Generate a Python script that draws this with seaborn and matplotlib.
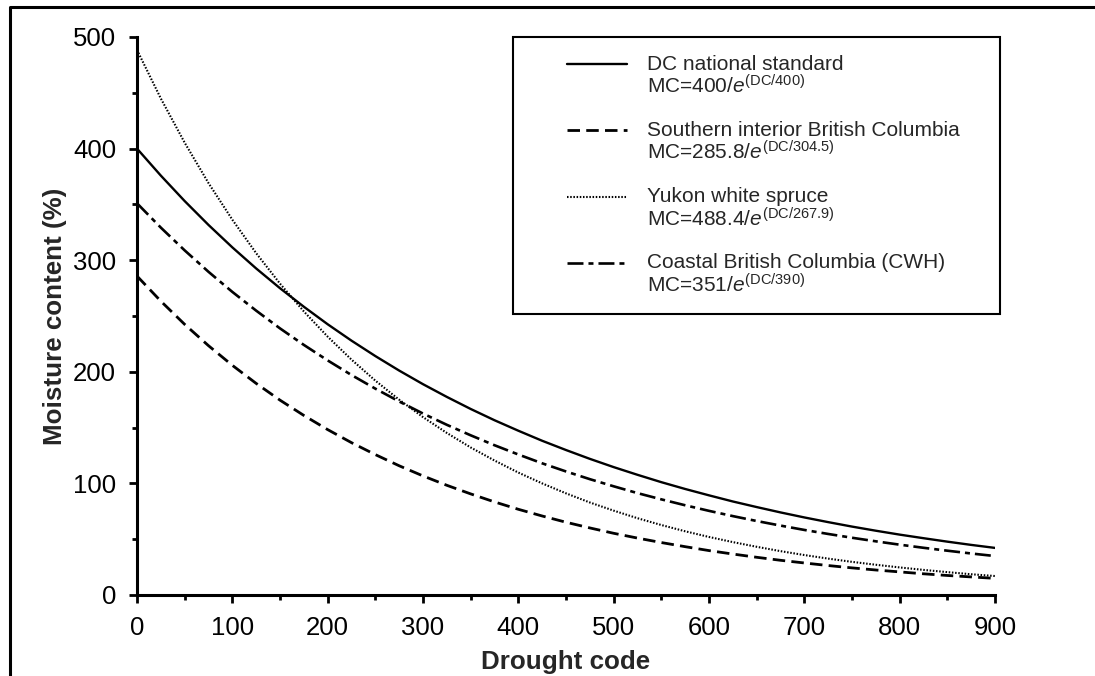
import numpy as np
import pandas as pd
import matplotlib
matplotlib.use("Agg")
import matplotlib.pyplot as plt
import seaborn as sns
from matplotlib.lines import Line2D
from matplotlib.legend_handler import HandlerLine2D
from matplotlib.ticker import MultipleLocator

# values every 25 DC units
drought_code = [0, 25, 50, 75, 100, 125, 150, 175, 200, 225, 250, 275, 300,
                325, 350, 375, 400, 425, 450, 475, 500, 525, 550, 575, 600,
                625, 650, 675, 700, 725, 750, 775, 800, 825, 850, 875, 900]
national_std = [400.0, 375.8, 353.0, 331.6, 311.5, 292.6, 274.9, 258.3, 242.6,
                227.9, 214.1, 201.1, 188.9, 177.5, 166.7, 156.6, 147.2, 138.2,
                129.9, 122.0, 114.6, 107.7, 101.1, 95.0, 89.3, 83.8, 78.8, 74.0,
                69.5, 65.3, 61.3, 57.6, 54.1, 50.9, 47.8, 44.9, 42.2]
southern_interior = [285.8, 263.3, 242.5, 223.4, 205.8, 189.6, 174.6, 160.9,
                     148.2, 136.5, 125.8, 115.8, 106.7, 98.3, 90.6, 83.4, 76.8,
                     70.8, 65.2, 60.1, 55.3, 51.0, 47.0, 43.3, 39.8, 36.7, 33.8,
                     31.1, 28.7, 26.4, 24.3, 22.4, 20.7, 19.0, 17.5, 16.2, 14.9]
yukon_spruce = [488.4, 444.9, 405.3, 369.1, 336.3, 306.3, 279.0, 254.1, 231.5,
                210.9, 192.1, 175.0, 159.4, 145.2, 132.2, 120.5, 109.7, 100.0,
                91.1, 82.9, 75.6, 68.8, 62.7, 57.1, 52.0, 47.4, 43.2, 39.3,
                35.8, 32.6, 29.7, 27.1, 24.7, 22.5, 20.5, 18.6, 17.0]
coastal_cwh = [351.0, 329.2, 308.8, 289.6, 271.6, 254.8, 238.9, 224.1, 210.2,
               197.1, 184.9, 173.4, 162.6, 152.5, 143.1, 134.2, 125.9, 118.0,
               110.7, 103.8, 97.4, 91.3, 85.7, 80.4, 75.4, 70.7, 66.3, 62.2,
               58.3, 54.7, 51.3, 48.1, 45.1, 42.3, 39.7, 37.2, 34.9]

series_names = ["DC national standard",
                "Southern interior British Columbia",
                "Yukon white spruce",
                "Coastal British Columbia (CWH)"]
formulas = [r"MC=400/$e^{\mathrm{(DC/400)}}$",
            r"MC=285.8/$e^{\mathrm{(DC/304.5)}}$",
            r"MC=488.4/$e^{\mathrm{(DC/267.9)}}$",
            r"MC=351/$e^{\mathrm{(DC/390)}}$"]

# line styles (points, dashes not scaled by width)
line_styles = [dict(lw=1.7, ls="-"),
               dict(lw=2.0, ls=(0, (9, 4.5))),
               dict(lw=1.5, ls=(0, (1.1, 1.2))),
               dict(lw=1.9, ls=(0, (11.5, 3.6, 3.6, 3.6)))]

sns.set_theme(style="ticks")
plt.rcParams["font.family"] = ["Liberation Sans", "DejaVu Sans"]
plt.rcParams.update({
    "lines.scale_dashes": False,
    "mathtext.fontset": "custom",
    "mathtext.rm": "Liberation Sans",
    "mathtext.it": "Liberation Sans:italic",
    "mathtext.bf": "Liberation Sans:bold",
    "axes.edgecolor": "black",
    "xtick.color": "black",
    "ytick.color": "black",
})


class RaisedLine(HandlerLine2D):
    """Legend handle drawn level with the first text line, shifted right."""
    lead = 1.75
    lift = 0.58

    def create_artists(self, legend, orig_handle, xdescent, ydescent,
                       width, height, fontsize, trans):
        arts = super().create_artists(legend, orig_handle, xdescent, ydescent,
                                      width, height, fontsize, trans)
        for a in arts:
            if isinstance(a, Line2D):
                xs = np.asarray(a.get_xdata(), float)
                ys = np.asarray(a.get_ydata(), float)
                a.set_xdata(np.linspace(xs[0] + self.lead * fontsize, xs[-1], len(xs)))
                a.set_ydata(ys + self.lift * fontsize)
        return arts


fig = plt.figure(figsize=(10.95, 6.76), dpi=100)
ax = fig.add_axes([137 / 1095, 81 / 676, 858 / 1095, 558 / 676])

all_series = [national_std, southern_interior, yukon_spruce, coastal_cwh]
for name, vals, st in zip(series_names, all_series, line_styles):
    df = pd.DataFrame({"DC": drought_code, "MC": vals})
    sns.lineplot(data=df, x="DC", y="MC", color="black", estimator=None,
                 linewidth=st["lw"], linestyle=st["ls"], label=name, ax=ax)

ax.set_xlim(0, 900)
ax.set_ylim(0, 500)
ax.xaxis.set_major_locator(MultipleLocator(100))
ax.xaxis.set_minor_locator(MultipleLocator(50))
ax.yaxis.set_major_locator(MultipleLocator(100))
ax.yaxis.set_minor_locator(MultipleLocator(50))
ax.tick_params(which="both", direction="out", width=2.0, labelsize=18.5)
ax.tick_params(which="major", length=6)
ax.tick_params(which="minor", length=3.6)
ax.tick_params(axis="x", pad=9)
ax.tick_params(axis="y", pad=9)
sns.despine(ax=ax)
for s in ("left", "bottom"):
    ax.spines[s].set_linewidth(2.2)

ax.set_xlabel("Drought code", fontsize=18.7, fontweight="bold", labelpad=7)
ax.set_ylabel("Moisture content (%)", fontsize=18.7, fontweight="bold", labelpad=4)

labels = [f"{n}\n{f}" for n, f in zip(series_names, formulas)]
leg = ax.legend(ax.get_lines(), labels, loc="upper left",
                bbox_to_anchor=(376 / 858, 0, 487 / 858, 1.0), mode="expand",
                borderaxespad=0, borderpad=0.85, handlelength=4.6,
                handletextpad=1.0, labelspacing=1.1, fontsize=15,
                frameon=True, fancybox=False, edgecolor="black", framealpha=1,
                handler_map={Line2D: RaisedLine()})
leg.get_frame().set_linewidth(1.5)
for t in leg.get_texts():
    t.set_linespacing(1.05)

# page frame around the figure
fig.add_artist(Line2D([10 / 1095, 10 / 1095, 1.0], [0.0, 1 - 7 / 676, 1 - 7 / 676],
                      transform=fig.transFigure, color="black", lw=2.2))

fig.savefig("out.png", dpi=100)
